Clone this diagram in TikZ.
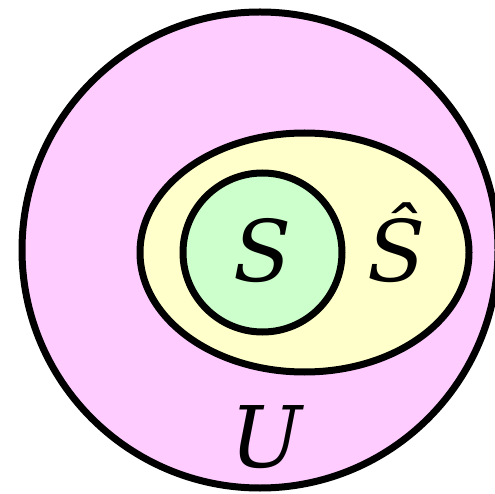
\documentclass[tikz,border=0pt]{standalone}
\usepackage{fontspec}
\setmainfont{DejaVu Serif}
\usetikzlibrary{shapes.geometric}

\definecolor{setpink}{HTML}{FFCCFF}
\definecolor{setyellow}{HTML}{FFFFCC}
\definecolor{setgreen}{HTML}{CCFFCC}

\begin{document}
\begin{tikzpicture}[x=1pt, y=-1pt]
  % Styles
  \tikzstyle{setline} = [draw=black, line width=7pt, inner sep=0pt, outer sep=0pt]
  \tikzstyle{setname} = [inner sep=0pt, anchor=base, font=\fontsize{85}{90}\selectfont\itshape]

  \useasboundingbox (0,0) rectangle (495,494);

  % Sets
  \node [setline, circle, fill=setpink, minimum size=476pt] (U) at (260,250) {};
  \node [setline, ellipse, fill=setyellow, minimum width=329pt, minimum height=239pt] (Shat) at (304.5,252.5) {};
  \node [setline, circle, fill=setgreen, minimum size=159pt] (S) at (262.5,252.5) {};

  % Labels
  \node [setname] (Slabel) at (262.5,282) {S};
  \node [setname] (Shatlabel) at (397,282) {\^{S}};
  \node [setname] (Ulabel) at (266,467) {U};

\end{tikzpicture}
\end{document}
